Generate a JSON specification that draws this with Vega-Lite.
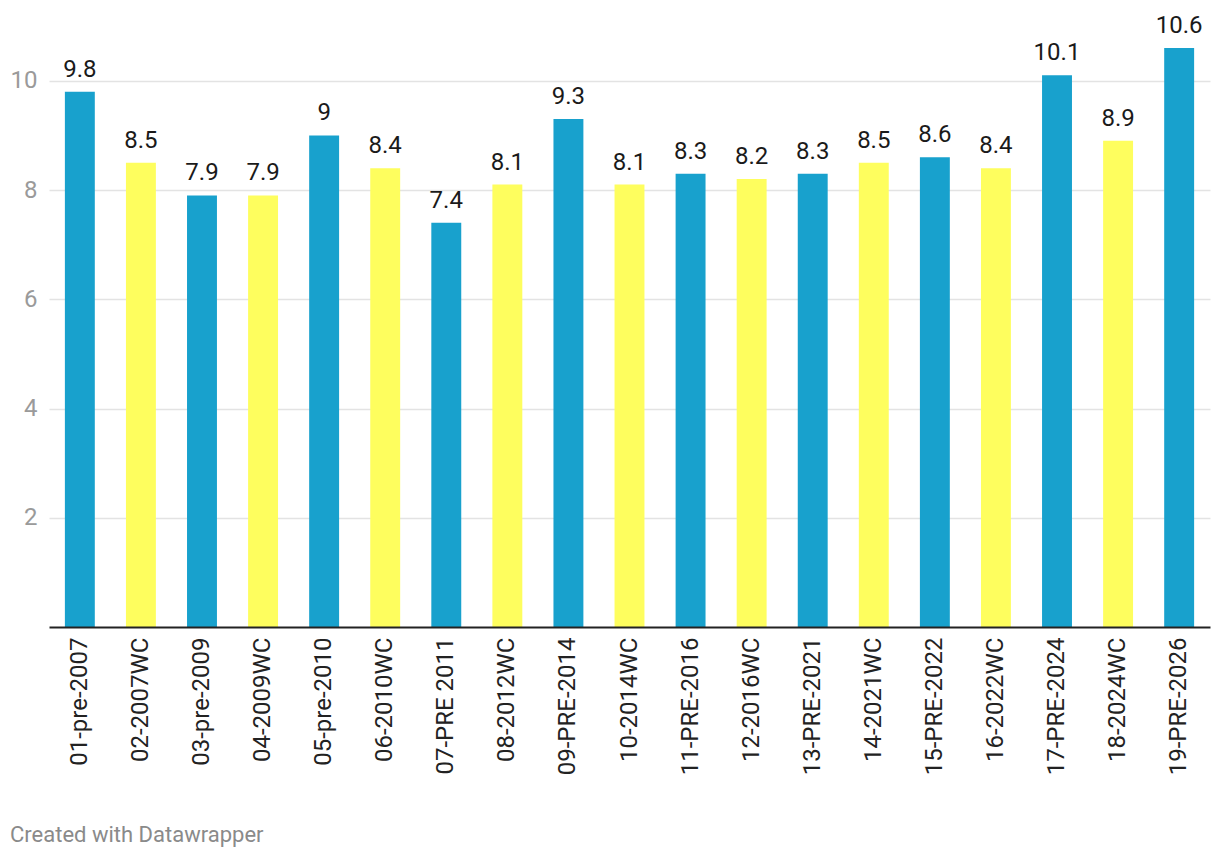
{
  "$schema": "https://vega.github.io/schema/vega-lite/v6.json",
  "width": 1161,
  "height": 579,
  "autosize": {"type": "none"},
  "padding": {"left": 49, "top": 48, "right": 10, "bottom": 231},
  "background": "white",
  "config": {
    "font": "Roboto",
    "view": {"stroke": null}
  },
  "title": {
    "text": "Created with Datawrapper",
    "orient": "bottom",
    "anchor": "start",
    "frame": "bounds",
    "offset": 50,
    "fontSize": 22,
    "fontWeight": "normal",
    "color": "#8a8a8a",
    "font": "Roboto"
  },
  "data": {
    "values": [
      {"label": "01-pre-2007", "value": 9.8, "type": "pre"},
      {"label": "02-2007WC", "value": 8.5, "type": "WC"},
      {"label": "03-pre-2009", "value": 7.9, "type": "pre"},
      {"label": "04-2009WC", "value": 7.9, "type": "WC"},
      {"label": "05-pre-2010", "value": 9, "type": "pre"},
      {"label": "06-2010WC", "value": 8.4, "type": "WC"},
      {"label": "07-PRE 2011", "value": 7.4, "type": "pre"},
      {"label": "08-2012WC", "value": 8.1, "type": "WC"},
      {"label": "09-PRE-2014", "value": 9.3, "type": "pre"},
      {"label": "10-2014WC", "value": 8.1, "type": "WC"},
      {"label": "11-PRE-2016", "value": 8.3, "type": "pre"},
      {"label": "12-2016WC", "value": 8.2, "type": "WC"},
      {"label": "13-PRE-2021", "value": 8.3, "type": "pre"},
      {"label": "14-2021WC", "value": 8.5, "type": "WC"},
      {"label": "15-PRE-2022", "value": 8.6, "type": "pre"},
      {"label": "16-2022WC", "value": 8.4, "type": "WC"},
      {"label": "17-PRE-2024", "value": 10.1, "type": "pre"},
      {"label": "18-2024WC", "value": 8.9, "type": "WC"},
      {"label": "19-PRE-2026", "value": 10.6, "type": "pre"}
    ]
  },
  "encoding": {
    "x": {
      "field": "label",
      "type": "nominal",
      "sort": null,
      "scale": {"paddingInner": 0.51, "paddingOuter": 0.26},
      "axis": {
        "title": null,
        "labelAngle": -90,
        "labelAlign": "right",
        "labelBaseline": "middle",
        "labelFontSize": 24,
        "labelColor": "#222222",
        "labelPadding": 10,
        "ticks": false,
        "domainColor": "#222222",
        "domainWidth": 2,
        "zindex": 1
      }
    },
    "y": {
      "field": "value",
      "type": "quantitative",
      "scale": {"domain": [0, 10.6], "nice": false},
      "axis": {
        "title": null,
        "values": [2, 4, 6, 8, 10],
        "labelFontSize": 24,
        "labelColor": "#9a9a9a",
        "labelPadding": 12,
        "ticks": false,
        "domain": false,
        "gridColor": "#e3e3e3",
        "gridWidth": 1.5
      }
    }
  },
  "layer": [
    {
      "mark": {"type": "bar"},
      "encoding": {
        "color": {
          "field": "type",
          "type": "nominal",
          "scale": {"domain": ["pre", "WC"], "range": ["#18a1cd", "#fefe5e"]},
          "legend": null
        }
      }
    },
    {
      "mark": {"type": "text", "baseline": "bottom", "dy": -10, "fontSize": 24, "color": "#1a1a1a"},
      "encoding": {
        "text": {"field": "value", "type": "quantitative"}
      }
    }
  ]
}
